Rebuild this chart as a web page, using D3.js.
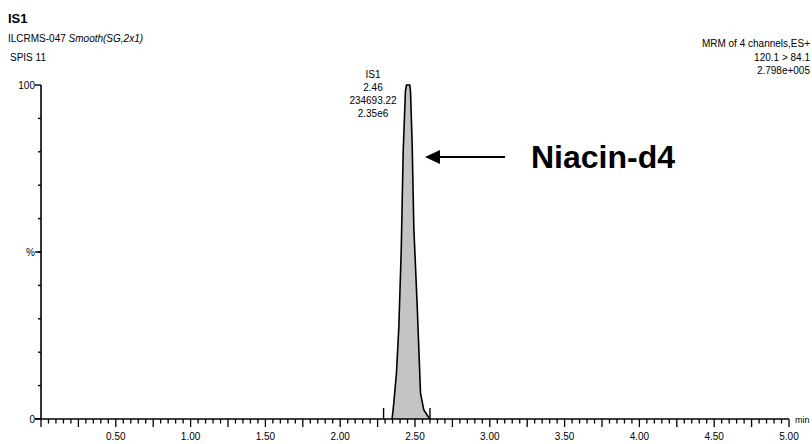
<!DOCTYPE html>
<html>
<head>
<meta charset="utf-8">
<script src="https://cdn.jsdelivr.net/npm/d3@7"></script>
<style>
  html, body { margin: 0; padding: 0; background: #fff; }
  svg { display: block; }
  .small { font-family: "Liberation Sans", Arial, sans-serif; font-size: 10px; fill: #000; }
</style>
</head>
<body>
<svg id="chart" width="812" height="444"></svg>
<script>
// Chromatogram trace for IS1 (retention time in min, relative intensity %)
const times = [2.29, 2.347, 2.358, 2.376, 2.392, 2.408, 2.421, 2.436, 2.443, 2.465, 2.47, 2.481, 2.492, 2.515, 2.537, 2.559, 2.599, 2.62];
const intensity = [0, 0, 4.7, 13.7, 27.6, 50.6, 80, 98.2, 100, 100, 98, 82.5, 57.5, 33.5, 7.7, 2.7, 0, 0];

// Integration limits
const integration = [2.29, 2.60];

// Peak annotation
const peakLabel = ["IS1", "2.46", "234693.22", "2.35e6"];
const peakTime = 2.46;

// Axis labels
const xTickLabels = [0.5, 1.0, 1.5, 2.0, 2.5, 3.0, 3.5, 4.0, 4.5, 5.0];
const yTickLabels = [[0, "0"], [50, "%"], [100, "100"]];

// Header text
const titleLeft = ["IS1", "ILCRMS-047", "Smooth(SG,2x1)", "SPIS 11"];
const titleRight = ["MRM of 4 channels,ES+", "120.1 > 84.1", "2.798e+005"];
const compound = "Niacin-d4";

const svg = d3.select("#chart");
const x = d3.scaleLinear().domain([0, 5]).range([41, 789]);
const y = d3.scaleLinear().domain([0, 100]).range([419, 85]);

// Peak area and outline
const data = times.map((t, i) => ({ t, v: intensity[i] }));
svg.append("path")
  .datum(data)
  .attr("d", d3.area().x(d => x(d.t)).y0(y(0)).y1(d => y(d.v)))
  .attr("fill", "#c4c4c4");
svg.append("path")
  .datum(data.filter(d => d.t > 2.3 && d.t < 2.61))
  .attr("d", d3.line().x(d => x(d.t)).y(d => y(d.v)))
  .attr("fill", "none")
  .attr("stroke", "#000")
  .attr("stroke-width", 1.6);

// Integration markers
svg.selectAll(".intg").data(integration).enter().append("line")
  .attr("x1", d => x(d)).attr("x2", d => x(d))
  .attr("y1", y(0)).attr("y2", y(0) - 11)
  .attr("stroke", "#000").attr("stroke-width", 1.4);

// X axis
const ax = svg.append("g");
ax.append("line")
  .attr("x1", x(0) - 6).attr("x2", x(5))
  .attr("y1", y(0)).attr("y2", y(0))
  .attr("stroke", "#000").attr("stroke-width", 1.6);
const xt = d3.range(0, 101).map(i => i * 0.05);
ax.selectAll(".xt").data(xt).enter().append("line")
  .attr("x1", d => x(d)).attr("x2", d => x(d))
  .attr("y1", y(0))
  .attr("y2", (d, i) => y(0) + (i % 5 === 0 ? 8 : 4.5))
  .attr("stroke", "#000").attr("stroke-width", 1.3);
ax.selectAll(".xl").data(xTickLabels).enter().append("text")
  .attr("class", "small")
  .attr("x", d => x(d)).attr("y", 440)
  .attr("text-anchor", "middle")
  .text(d => d.toFixed(2));
ax.append("text").attr("class", "small")
  .attr("x", 795).attr("y", 423)
  .style("font-size", "9px").text("min");

// Y axis
const ay = svg.append("g");
ay.append("line")
  .attr("x1", x(0)).attr("x2", x(0))
  .attr("y1", y(0)).attr("y2", y(100))
  .attr("stroke", "#000").attr("stroke-width", 1.6);
ay.selectAll(".yt").data(d3.range(10, 100, 10)).enter().append("line")
  .attr("x1", x(0) - 3).attr("x2", x(0))
  .attr("y1", d => y(d)).attr("y2", d => y(d))
  .attr("stroke", "#000").attr("stroke-width", 1.4);
ay.selectAll(".ym").data([0, 50, 100]).enter().append("line")
  .attr("x1", x(0) - 6).attr("x2", x(0))
  .attr("y1", d => y(d)).attr("y2", d => y(d))
  .attr("stroke", "#000").attr("stroke-width", 1.4);
ay.selectAll(".yl").data(yTickLabels).enter().append("text")
  .attr("class", "small")
  .attr("x", x(0) - 6).attr("y", d => y(d[0]) + 3.5)
  .attr("text-anchor", "end")
  .text(d => d[1]);

// Peak annotation
svg.selectAll(".pl").data(peakLabel).enter().append("text")
  .attr("class", "small")
  .attr("x", x(peakTime) - 36)
  .attr("y", (d, i) => 78 + i * 13)
  .attr("text-anchor", "middle")
  .text(d => d);

// Header, left
svg.append("text").attr("class", "small")
  .attr("x", 8).attr("y", 23)
  .style("font-size", "13px").style("font-weight", "bold")
  .text(titleLeft[0]);
const l2 = svg.append("text").attr("class", "small").attr("x", 8).attr("y", 42);
l2.append("tspan").text(titleLeft[1] + "  ");
l2.append("tspan").style("font-style", "italic").text(titleLeft[2]);
svg.append("text").attr("class", "small")
  .attr("x", 10).attr("y", 61).text(titleLeft[3]);

// Header, right
svg.selectAll(".tr").data(titleRight).enter().append("text")
  .attr("class", "small")
  .attr("x", 810).attr("y", (d, i) => 47 + i * 13.5)
  .attr("text-anchor", "end")
  .text(d => d);

// Compound callout with left-pointing arrow
const arrowY = 157, arrowTip = 425, arrowTail = 505;
svg.append("line")
  .attr("x1", arrowTail).attr("x2", arrowTip + 12)
  .attr("y1", arrowY).attr("y2", arrowY)
  .attr("stroke", "#000").attr("stroke-width", 2);
svg.append("path")
  .attr("d", d3.line()([[arrowTip, arrowY], [arrowTip + 15, arrowY - 7], [arrowTip + 15, arrowY + 7]]) + "Z")
  .attr("fill", "#000");
svg.append("text")
  .attr("x", 531).attr("y", 168)
  .style("font-family", "'Liberation Sans', Arial, sans-serif")
  .style("font-size", "32px").style("font-weight", "bold")
  .attr("fill", "#000")
  .text(compound);
</script>
</body>
</html>
